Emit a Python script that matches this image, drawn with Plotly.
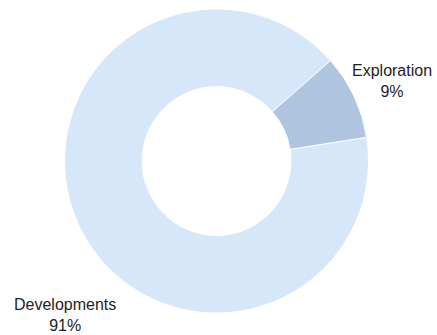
import plotly.graph_objects as go

labels = ["Developments", "Exploration"]
values = [91, 9]
colors = ["#d6e7fa", "#afc5df"]

total = sum(values)
pcts = [f"{round(v / total * 100)}%" for v in values]

fig = go.Figure(go.Pie(
    labels=labels,
    values=values,
    hole=0.49,
    sort=False,
    direction="clockwise",
    rotation=81,
    textinfo="none",
    hoverinfo="label+percent",
    marker=dict(colors=colors, line=dict(color="white", width=1)),
    domain=dict(x=[0.1476, 0.8433], y=[0.0657, 0.973]),
    showlegend=False,
))

label_pos = {"Exploration": (0.898, 0.757), "Developments": (0.148, 0.06)}
font = dict(family="Liberation Sans, Arial, sans-serif", size=16, color="#222222")
for lab, p in zip(labels, pcts):
    x, y = label_pos[lab]
    fig.add_annotation(x=x, y=y, xref="paper", yref="paper", text=f"{lab}<br>{p}",
                       showarrow=False, xanchor="center", yanchor="middle", align="center", font=font)

fig.update_layout(width=437, height=335, margin=dict(l=0, r=0, t=0, b=0),
                  paper_bgcolor="white", plot_bgcolor="white")
fig.write_html("out.html")
